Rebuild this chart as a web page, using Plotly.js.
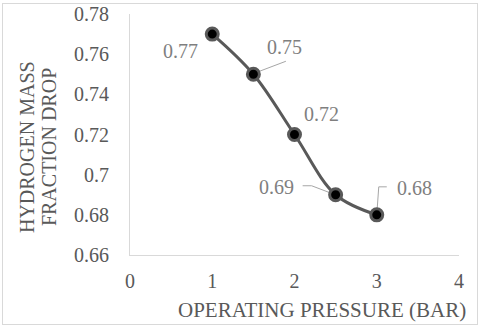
<!DOCTYPE html>
<html><head><meta charset="utf-8">
<script src="https://cdn.plot.ly/plotly-3.0.1.min.js"></script>
<style>
body{margin:0;background:#fff;}
#wrap{position:relative;width:480px;height:328px;}
#chart{width:480px;height:328px;}
#frame{position:absolute;left:2px;top:3px;width:474px;height:320px;border:1px solid #d9d9d9;pointer-events:none;}
</style></head>
<body><div id="wrap"><div id="chart"></div><div id="frame"></div></div>
<script>
const pressure = [1, 1.5, 2, 2.5, 3];
const h2Drop = [0.77, 0.75, 0.72, 0.69, 0.68];
const labels = ['0.77', '0.75', '0.72', '0.69', '0.68'];
const xTicks = [0, 1, 2, 3, 4];
const yTicks = [0.66, 0.68, 0.70, 0.72, 0.74, 0.76, 0.78];
const yTickText = ['0.66', '0.68', '0.7', '0.72', '0.74', '0.76', '0.78'];

const font = 'Liberation Serif';
const labelOffsets = [[-32,-17],[31,27],[27,21],[-59,8],[38,27]];
const leaderPaths = [null, 'M3.5,2 L32.5,13', null, 'M-3,1 L-24,9 L-33,9', 'M0,0 L2,28 L10,28'];

const annotations = pressure.map((x,i)=>({
  x:x, y:h2Drop[i], xref:'x', yref:'y', text:labels[i], showarrow:false,
  xshift:labelOffsets[i][0], yshift:labelOffsets[i][1],
  font:{family:font,size:20,color:'#7f7f7f'}
}));
annotations.push({xref:'paper',yref:'paper',x:-0.313,y:0.448,xanchor:'center',yanchor:'middle',
  text:'HYDROGEN MASS',textangle:-90,showarrow:false,font:{family:font,size:20,color:'#595959'}});
annotations.push({xref:'paper',yref:'paper',x:-0.246,y:0.448,xanchor:'center',yanchor:'middle',
  text:'FRACTION DROP',textangle:-90,showarrow:false,font:{family:font,size:20,color:'#595959'}});
annotations.push({xref:'paper',yref:'paper',x:0.5836,y:-0.228,xanchor:'center',yanchor:'middle',
  text:'OPERATING PRESSURE (BAR)',showarrow:false,font:{family:font,size:21,color:'#595959'}});

const shapes = [];
pressure.forEach((x,i)=>{
  if(leaderPaths[i]) shapes.push({type:'path',xref:'x',yref:'y',xsizemode:'pixel',ysizemode:'pixel',
    xanchor:x,yanchor:h2Drop[i],path:leaderPaths[i],layer:'below',line:{color:'#a6a6a6',width:1}});
});

Plotly.newPlot('chart',[{
  x:pressure, y:h2Drop, mode:'lines+markers', type:'scatter',
  line:{color:'#595959',width:3,shape:'spline',smoothing:1},
  marker:{color:'#000',size:12,line:{color:'#595959',width:3}},
  hoverinfo:'none'
}],{
  width:480,height:328,
  margin:{l:130,r:21,t:14,b:73},
  paper_bgcolor:'#fff',plot_bgcolor:'#fff',
  showlegend:false,
  xaxis:{range:[0,4],tickvals:xTicks,ticks:'',showgrid:false,zeroline:false,showline:true,
    linecolor:'#d9d9d9',linewidth:1,ticklabelstandoff:8,
    tickfont:{family:font,size:20,color:'#595959'}},
  yaxis:{range:[0.66,0.78],tickvals:yTicks,ticktext:yTickText,ticks:'',showgrid:false,zeroline:false,showline:true,
    linecolor:'#d9d9d9',linewidth:1,ticklabelstandoff:16,
    tickfont:{family:font,size:20,color:'#595959'}},
  annotations:annotations, shapes:shapes
},{staticPlot:true});
</script></body></html>
